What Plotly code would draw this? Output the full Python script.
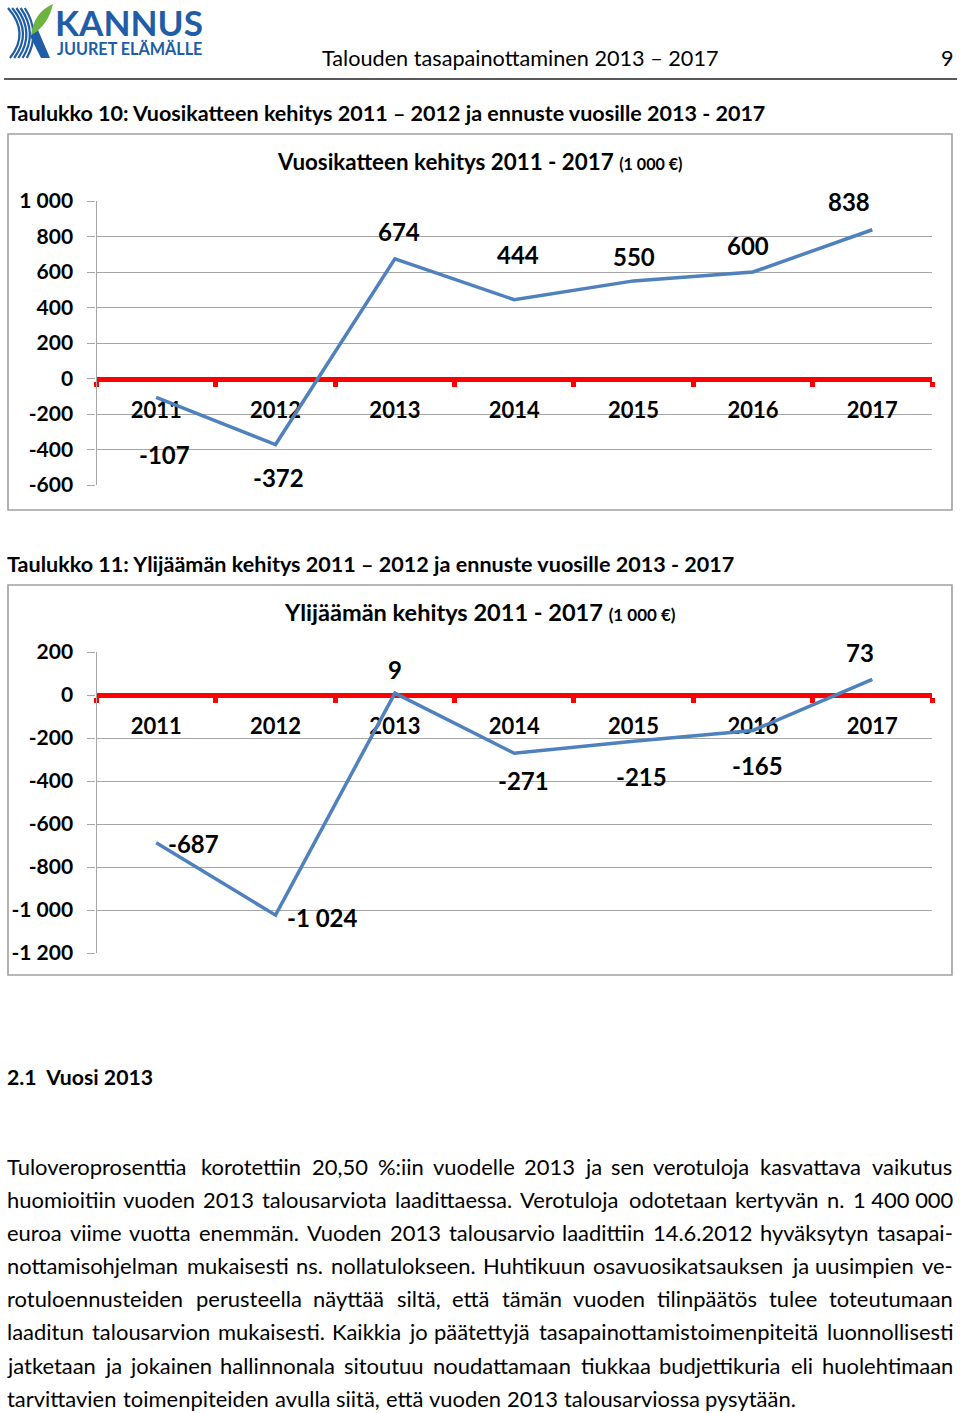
import glob
import os
import struct
import plotly.graph_objects as go

W, H = 960, 1413

# ---------------- data ----------------
years = ["2011", "2012", "2013", "2014", "2015", "2016", "2017"]
vuosikate = [-107, -372, 674, 444, 550, 600, 838]
ylijaama = [-687, -1024, 9, -271, -215, -165, 73]

y1_tickvals = [1000, 800, 600, 400, 200, 0, -200, -400, -600]
y1_ticktext = ["1 000", "800", "600", "400", "200", "0", "-200", "-400", "-600"]
y2_tickvals = [200, 0, -200, -400, -600, -800, -1000, -1200]
y2_ticktext = ["200", "0", "-200", "-400", "-600", "-800", "-1 000", "-1 200"]

header_text = "Talouden tasapainottaminen 2013 \u2013 2017"
page_no = "9"
caption1 = "Taulukko 10: Vuosikatteen kehitys 2011 \u2013 2012 ja ennuste vuosille 2013 - 2017"
caption2 = "Taulukko 11: Ylijäämän kehitys 2011 \u2013 2012 ja ennuste vuosille 2013 - 2017"
chart1_title = "Vuosikatteen kehitys 2011 - 2017"
chart2_title = "Ylijäämän kehitys 2011 - 2017"
unit_text = "(1 000 \u20ac)"
section_title = "2.1  Vuosi 2013"
paragraph_lines = [
    "Tuloveroprosenttia korotettiin 20,50 %:iin vuodelle 2013 ja sen verotuloja kasvattava vaikutus",
    "huomioitiin vuoden 2013 talousarviota laadittaessa. Verotuloja odotetaan kertyvän n. 1\u00a0400\u00a0000",
    "euroa viime vuotta enemmän.  Vuoden 2013 talousarvio laadittiin 14.6.2012 hyväksytyn tasapai-",
    "nottamisohjelman mukaisesti ns. nollatulokseen. Huhtikuun osavuosikatsauksen ja uusimpien ve-",
    "rotuloennusteiden perusteella näyttää siltä, että tämän vuoden tilinpäätös tulee toteutumaan",
    "laaditun talousarvion mukaisesti. Kaikkia jo päätettyjä tasapainottamistoimenpiteitä luonnollisesti",
    "jatketaan ja jokainen hallinnonala sitoutuu noudattamaan tiukkaa budjettikuria eli huolehtimaan",
    "tarvittavien toimenpiteiden avulla siitä, että vuoden 2013 talousarviossa pysytään.",
]

# ---------------- styles ----------------
FONT = "Lato, Carlito, 'Open Sans', sans-serif"
LINE_BLUE = "#4f81bd"
RED = "#ff0000"
GRID = "#a6a6a6"
LOGO_BLUE = "#1f5da6"
LOGO_GREEN = "#6cb33f"

# data-label offsets (pixels) relative to each point
lab1_shift = [(8, -57), (3, -33), (4, 27), (4, 45), (0, 24), (-5, 26), (-23, 28)]
lab2_shift = [(37, -1), (47, -2), (0, 24), (9, -27), (8, -35), (5, -35), (-12, 27)]


# ---------------- font metrics (for sizing / justification) ----------------
def find_font(name):
    dirs = ["/usr/share/fonts", "/usr/local/share/fonts",
            os.path.expanduser("~/.fonts"), os.path.expanduser("~/.local/share/fonts")]
    for d in dirs:
        if os.path.isdir(d):
            hits = glob.glob(os.path.join(d, "**", name), recursive=True)
            if hits:
                return hits[0]
    return None


def load_metrics(path):
    try:
        data = open(path, "rb").read()
        num = struct.unpack(">H", data[4:6])[0]
        tables = {}
        for i in range(num):
            tag, _cs, off, ln = struct.unpack(">4sIII", data[12 + 16 * i:28 + 16 * i])
            tables[tag.decode("latin1")] = off
        off = tables["head"]
        upem = struct.unpack(">H", data[off + 18:off + 20])[0]
        off = tables["hhea"]
        nhm = struct.unpack(">H", data[off + 34:off + 36])[0]
        off = tables["hmtx"]
        adv = [struct.unpack(">H", data[off + 4 * i:off + 4 * i + 2])[0] for i in range(nhm)]
        coff = tables["cmap"]
        n = struct.unpack(">H", data[coff + 2:coff + 4])[0]
        cmap = {}
        for i in range(n):
            pid, eid, so = struct.unpack(">HHI", data[coff + 4 + 8 * i:coff + 12 + 8 * i])
            st = coff + so
            fmt = struct.unpack(">H", data[st:st + 2])[0]
            if fmt == 4 and (pid == 3 or pid == 0):
                segx2 = struct.unpack(">H", data[st + 6:st + 8])[0]
                seg = segx2 // 2
                ends = struct.unpack(">%dH" % seg, data[st + 14:st + 14 + segx2])
                starts = struct.unpack(">%dH" % seg, data[st + 16 + segx2:st + 16 + 2 * segx2])
                deltas = struct.unpack(">%dh" % seg, data[st + 16 + 2 * segx2:st + 16 + 3 * segx2])
                rpos = st + 16 + 3 * segx2
                roffs = struct.unpack(">%dH" % seg, data[rpos:rpos + segx2])
                for s in range(seg):
                    for c in range(starts[s], min(ends[s], 0x2FFF) + 1):
                        if roffs[s] == 0:
                            g = (c + deltas[s]) & 0xFFFF
                        else:
                            a = rpos + 2 * s + roffs[s] + 2 * (c - starts[s])
                            g = struct.unpack(">H", data[a:a + 2])[0]
                            if g:
                                g = (g + deltas[s]) & 0xFFFF
                        cmap[c] = g
                break
        if not cmap:
            return None
        return upem, adv, nhm, cmap
    except Exception:
        return None


_metrics = {}
for key, fname in (("reg", "Lato-Regular.ttf"), ("bold", "Lato-Bold.ttf")):
    p = find_font(fname)
    _metrics[key] = load_metrics(p) if p else None


def text_em(text, bold=False):
    m = _metrics["bold" if bold else "reg"]
    if m is None:
        return None
    upem, adv, nhm, cmap = m
    total = 0
    for ch in text:
        g = cmap.get(ord(ch), cmap.get(32, 0))
        total += adv[min(g, nhm - 1)]
    return total / upem


def fit(text, width, bold, default):
    em = text_em(text, bold)
    if not em:
        return default
    return width / em


def px(x):
    return x / W


def py(y):
    return 1 - y / H


annotations = []
shapes = []


def ann(text, x, y, size, bold=False, xanchor="left", color="black", yanchor="middle"):
    annotations.append(dict(
        text=("<b>%s</b>" % text) if bold else text,
        x=px(x), y=py(y), xref="paper", yref="paper",
        xanchor=xanchor, yanchor=yanchor, showarrow=False,
        borderpad=0, borderwidth=0,
        font=dict(family=FONT, size=size, color=color)))


# ---------------- header / logo ----------------
def path_px(cmds):
    out = []
    for c in cmds:
        if isinstance(c, str):
            out.append(c)
        else:
            out.append("%.5f,%.5f" % (px(c[0]), py(c[1])))
    return " ".join(out)


for k in range(5):
    x0 = 8 + 4.2 * k
    shapes.append(dict(type="path", xref="paper", yref="paper",
                       path=path_px(["M", (x0, 8), "Q", (x0 + 22 - 1.5 * k, 33), (x0 + 2, 58)]),
                       line=dict(color=LOGO_BLUE, width=2.2)))
shapes.append(dict(type="path", xref="paper", yref="paper",
                   path=path_px(["M", (30, 36), "L", (38, 30), "L", (50, 58), "L", (41, 58), "Z"]),
                   fillcolor=LOGO_BLUE, line=dict(color=LOGO_BLUE, width=0)))
shapes.append(dict(type="path", xref="paper", yref="paper",
                   path=path_px(["M", (31, 35), "Q", (34, 12), (53, 4), "Q", (48, 26), (31, 35), "Z"]),
                   fillcolor=LOGO_GREEN, line=dict(color=LOGO_GREEN, width=0)))

ann("KANNUS", 55, 22, fit("KANNUS", 148, True, 34), bold=True, color=LOGO_BLUE)
ann("JUURET ELÄMÄLLE", 57, 49, fit("JUURET ELÄMÄLLE", 146, True, 15), bold=True, color=LOGO_BLUE)

hsize = fit(header_text, 400, False, 22)
ann(header_text, 322, 58, hsize)
ann(page_no, 954, 58, hsize, xanchor="right")
shapes.append(dict(type="line", xref="paper", yref="paper",
                   x0=px(4), x1=px(957), y0=py(79), y1=py(79),
                   line=dict(color="#5a5a5a", width=2)))

ann(caption1, 7, 113, fit(caption1, 766, True, 21), bold=True)
ann(caption2, 7, 564, fit(caption2, 733, True, 21), bold=True)
ann(section_title, 7, 1077, fit(section_title, 148, True, 21), bold=True)

# ---------------- paragraph (justified) ----------------
PX0, PX1 = 7, 953
line_y = [1166, 1199, 1232, 1265, 1298, 1331, 1365, 1398]
psize = fit(paragraph_lines[-1], 790, False, None)
if psize is None:
    for t, yy in zip(paragraph_lines, line_y):
        ann(t, PX0, yy, 19.5)
else:
    sp = text_em(" ") * psize
    for i, (t, yy) in enumerate(zip(paragraph_lines, line_y)):
        words = [w for w in t.split(" ") if w]
        ws = [text_em(w) * psize for w in words]
        if i < len(paragraph_lines) - 1 and len(words) > 1:
            gap = (PX1 - PX0 - sum(ws)) / (len(words) - 1)
        else:
            gap = sp
        x = PX0
        for w, wd in zip(words, ws):
            ann(w, x, yy, psize)
            x += wd + gap

# ---------------- chart boxes ----------------
for (y0, y1) in ((134, 510), (585, 975)):
    shapes.append(dict(type="rect", xref="paper", yref="paper",
                       x0=px(8), x1=px(952), y0=py(y0), y1=py(y1),
                       line=dict(color="#a0a0a0", width=1.6), fillcolor="rgba(0,0,0,0)"))

# chart titles
t1 = fit(chart1_title, 339, True, 22)
t2 = fit(chart2_title, 319, True, 22)
annotations.append(dict(
    text="<b>%s </b><span style='font-size:%.1fpx'><b>%s</b></span>" % (chart1_title, t1 * 0.72, unit_text),
    x=px(480), y=py(162), xref="paper", yref="paper", xanchor="center", yanchor="middle",
    showarrow=False, font=dict(family=FONT, size=t1, color="black")))
annotations.append(dict(
    text="<b>%s </b><span style='font-size:%.1fpx'><b>%s</b></span>" % (chart2_title, t2 * 0.72, unit_text),
    x=px(480), y=py(612), xref="paper", yref="paper", xanchor="center", yanchor="middle",
    showarrow=False, font=dict(family=FONT, size=t2, color="black")))

# ---------------- charts ----------------
XDOM = [px(96.5), px(932)]


def fmt(v):
    return ("{:,}".format(v)).replace(",", " ")


def chart_axes(ytop_px, ybot_px, yr, tickvals, ticktext):
    ydom = [py(ybot_px), py(ytop_px)]
    zero_pos = ydom[0] + (ydom[1] - ydom[0]) * (0 - yr[0]) / (yr[1] - yr[0])
    xa = dict(domain=XDOM, type="category", range=[-0.5, 6.5], anchor="free",
              position=zero_pos, side="bottom", showline=True, linecolor=RED,
              linewidth=5, ticks="outside", tickson="boundaries", ticklen=5,
              tickwidth=5, tickcolor=RED, showgrid=False, layer="below traces",
              tickfont=dict(family=FONT, size=22, color="black", weight="bold"),
              ticklabelstandoff=10, fixedrange=True, automargin=False)
    ya = dict(domain=ydom, range=yr, tickvals=tickvals, ticktext=ticktext,
              showline=True, linecolor=GRID, linewidth=1.3, ticks="outside",
              ticklen=8, tickcolor=GRID, tickwidth=1.3, showgrid=True,
              gridcolor=GRID, gridwidth=1.3, zeroline=False,
              tickfont=dict(family=FONT, size=21, color="black", weight="bold"),
              ticklabelstandoff=10, fixedrange=True, automargin=False)
    return xa, ya


xa1, ya1 = chart_axes(201, 485, [-600, 1000], y1_tickvals, y1_ticktext)
xa2, ya2 = chart_axes(652, 953, [-1200, 200], y2_tickvals, y2_ticktext)
ya1["anchor"] = "x"
ya2["anchor"] = "x2"

fig = go.Figure()
fig.add_trace(go.Scatter(x=years, y=vuosikate, mode="lines", xaxis="x", yaxis="y",
                         line=dict(color=LINE_BLUE, width=3.5), showlegend=False,
                         hoverinfo="skip"))
fig.add_trace(go.Scatter(x=years, y=ylijaama, mode="lines", xaxis="x2", yaxis="y2",
                         line=dict(color=LINE_BLUE, width=3.5), showlegend=False,
                         hoverinfo="skip"))

for ys, shifts, xr, yr in ((vuosikate, lab1_shift, "x", "y"),
                           (ylijaama, lab2_shift, "x2", "y2")):
    for i, (yv, (dx, dy)) in enumerate(zip(ys, shifts)):
        annotations.append(dict(text="<b>%s</b>" % fmt(yv), x=i, y=yv, xref=xr, yref=yr,
                                xshift=dx, yshift=dy, showarrow=False,
                                xanchor="center", yanchor="middle",
                                font=dict(family=FONT, size=24, color="black")))

fig.update_layout(
    template="none",
    width=W, height=H, autosize=False,
    margin=dict(l=0, r=0, t=0, b=0, pad=0, autoexpand=False),
    paper_bgcolor="white", plot_bgcolor="white",
    xaxis=xa1, yaxis=ya1, xaxis2=xa2, yaxis2=ya2,
    annotations=annotations, shapes=shapes,
    showlegend=False, hovermode=False,
)

fig.write_html("out.html", config={"displayModeBar": False})
